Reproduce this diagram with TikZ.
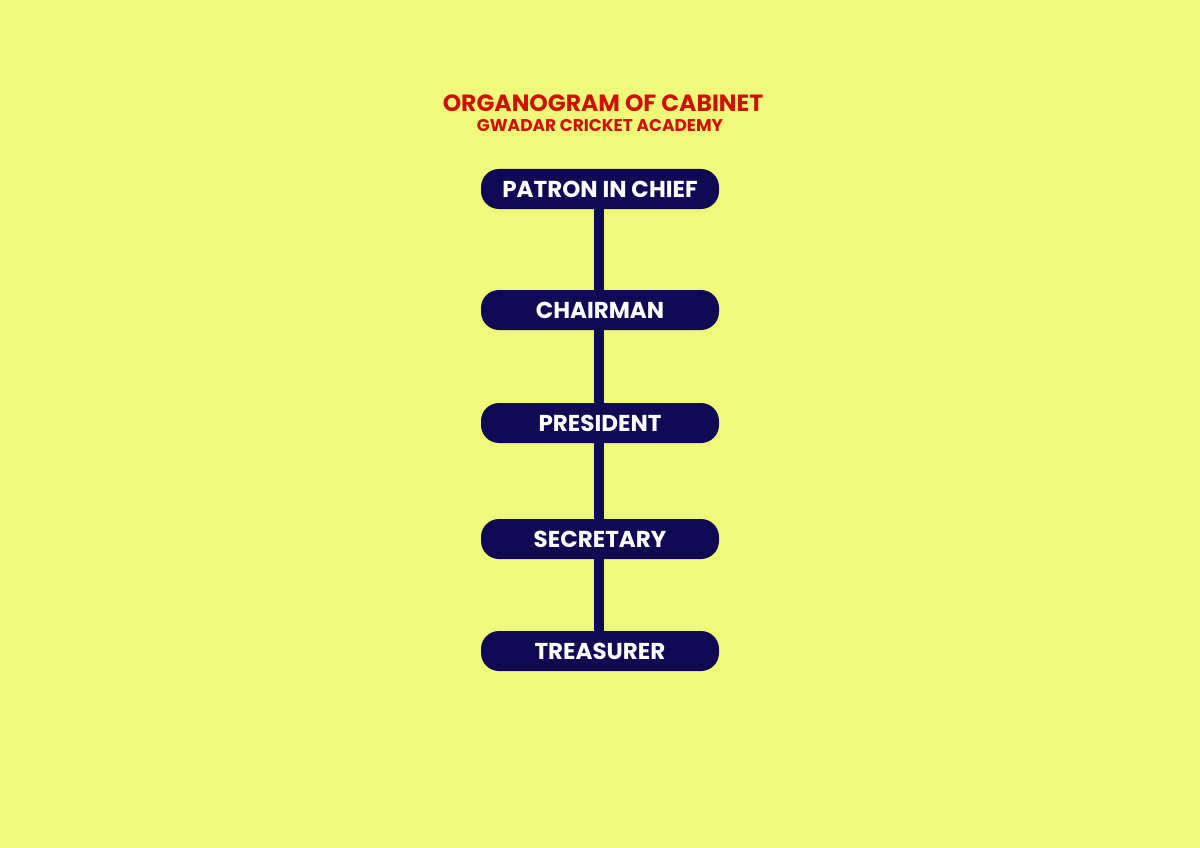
\documentclass[tikz,border=0pt]{standalone}
\usepackage{fontspec}
\setmainfont{Poppins}
\definecolor{bg}{HTML}{EFFA7A}
\definecolor{navy}{HTML}{100A55}
\definecolor{tred}{HTML}{CC1100}
\begin{document}
\begin{tikzpicture}[x=1pt,y=-1pt,
  role/.style={fill=navy,rounded corners=18pt,minimum width=238pt,minimum height=40pt,
    text=white,font=\fontsize{23}{26}\selectfont\bfseries,inner sep=0pt,
    text depth=-1pt},
  link/.style={navy,line width=10pt}]
\fill[bg] (0,0) rectangle (1200,848);
\useasboundingbox (0,0) rectangle (1200,848);
\node[text=tred,font=\fontsize{23.5}{28}\selectfont\bfseries] (t1) at (603,103) {ORGANOGRAM OF CABINET};
\node[text=tred,font=\fontsize{17}{20}\selectfont\bfseries] (t2) at (600,126) {GWADAR CRICKET ACADEMY};
\coordinate (top) at (599,200);
\coordinate (bot) at (599,669);
\draw[link] (top) -- (bot);
\node[role] (a) at (600,189) {PATRON IN CHIEF};
\node[role] (b) at (600,310) {CHAIRMAN};
\node[role] (c) at (600,423) {PRESIDENT};
\node[role] (d) at (600,539) {SECRETARY};
\node[role] (e) at (600,651) {TREASURER};
\end{tikzpicture}
\end{document}
